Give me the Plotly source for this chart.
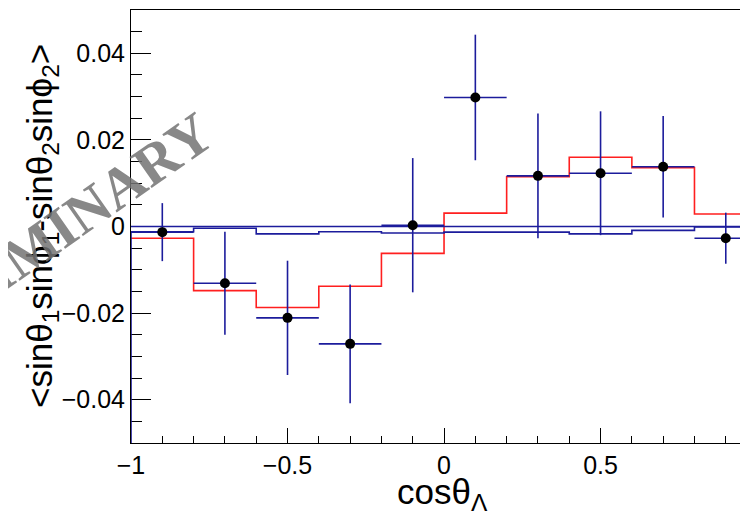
import plotly.graph_objects as go

# ---- data ----
bin_edges = [-1.0, -0.8, -0.6, -0.4, -0.2, 0.0, 0.2, 0.4, 0.6, 0.8, 1.0]
bin_centers = [-0.9, -0.7, -0.5, -0.3, -0.1, 0.1, 0.3, 0.5, 0.7, 0.9]
bin_half_width = 0.1

data_values = [-0.0013, -0.0131, -0.0211, -0.0271, 0.0003, 0.0298, 0.0117, 0.0123, 0.0138, -0.0027]
data_errors = [0.0067, 0.0119, 0.0132, 0.0137, 0.0155, 0.0145, 0.0144, 0.0143, 0.0117, 0.0059]

red_model = [-0.0027, -0.0148, -0.0187, -0.0138, -0.0062, 0.0031, 0.0115, 0.0160, 0.0136, 0.0029]
blue_model = [-0.0012, -0.0004, -0.0017, -0.0012, -0.0015, -0.0013, -0.0013, -0.0017, -0.0009, -0.0001]
blue_zero = [0.0, 0.0, 0.0, 0.0, 0.0, 0.0, 0.0, 0.0, 0.0, 0.0]

x_range = [-1.0, 0.971]
y_range = [-0.05, 0.05]

NAVY = "#1c1c9c"
RED = "#ff1f1f"

# page body has an 8px margin; size/offset the figure to compensate
FIG_W, FIG_H = 740, 507
M_L, M_R, M_T, M_B = 123, 0, 2, 72
PLOT_W = FIG_W - M_L - M_R
PLOT_H = FIG_H - M_T - M_B
OFF = 8  # body margin


def px_to_paper_x(px):
    return (px - OFF - M_L) / PLOT_W


def px_to_paper_y(py):
    return (FIG_H - M_B - (py - OFF)) / PLOT_H


def step_xy(values, start_from=None):
    xs = list(bin_edges)
    ys = list(values) + [values[-1]]
    if start_from is not None:
        xs = [bin_edges[0]] + xs
        ys = [start_from] + ys
    return xs, ys


fig = go.Figure()

rx, ry = step_xy(red_model)
fig.add_trace(go.Scatter(x=rx, y=ry, mode="lines", line=dict(color=RED, width=1.6, shape="hv"),
                         hoverinfo="skip", showlegend=False))

zx, zy = step_xy(blue_zero)
fig.add_trace(go.Scatter(x=zx, y=zy, mode="lines", line=dict(color=NAVY, width=1.6, shape="hv"),
                         hoverinfo="skip", showlegend=False))

bx, by = step_xy(blue_model, start_from=y_range[0])
fig.add_trace(go.Scatter(x=bx, y=by, mode="lines", line=dict(color=NAVY, width=1.6, shape="hv"),
                         hoverinfo="skip", showlegend=False))

fig.add_trace(go.Scatter(
    x=bin_centers, y=data_values, mode="markers",
    marker=dict(color="black", size=10),
    error_y=dict(type="data", array=data_errors, color=NAVY, thickness=1.6, width=0),
    error_x=dict(type="constant", value=bin_half_width, color=NAVY, thickness=1.6, width=0),
    showlegend=False,
))

fig.update_layout(
    width=FIG_W, height=FIG_H,
    margin=dict(l=M_L, r=M_R, t=M_T, b=M_B),
    paper_bgcolor="white", plot_bgcolor="white",
    font=dict(family="Liberation Sans, Arial, sans-serif", color="black"),
    showlegend=False,
)

fig.update_xaxes(
    range=x_range, showgrid=False, zeroline=False,
    showline=True, linecolor="black", linewidth=1, mirror=True,
    tick0=0, dtick=0.5, ticks="inside", ticklen=15, tickcolor="black", tickwidth=1,
    tickfont=dict(size=25, family="Liberation Sans, Arial, sans-serif"),
    minor=dict(dtick=0.1, ticks="inside", ticklen=7, tickcolor="black", tickwidth=1),
)
fig.update_yaxes(
    range=y_range, showgrid=False, zeroline=False,
    showline=True, linecolor="black", linewidth=1, mirror=False,
    tick0=0, dtick=0.02, ticks="inside", ticklen=20, tickcolor="black", tickwidth=1,
    tickfont=dict(size=25, family="Liberation Sans, Arial, sans-serif"),
    minor=dict(dtick=0.005, ticks="inside", ticklen=11, tickcolor="black", tickwidth=1),
    layer="below traces",
)

# axis titles
fig.add_annotation(
    text="&lt;sinθ<sub>1</sub>sinϕ<sub>1</sub>-sinθ<sub>2</sub>sinϕ<sub>2</sub>&gt;",
    xref="paper", yref="paper", x=px_to_paper_x(42), y=px_to_paper_y(226),
    xanchor="center", yanchor="middle", textangle=-90, showarrow=False,
    font=dict(size=35, family="Liberation Sans, Arial, sans-serif", color="black"),
)
fig.add_annotation(
    text="cosθ<sub>Λ</sub>",
    xref="paper", yref="paper", x=px_to_paper_x(443), y=px_to_paper_y(494),
    xanchor="center", yanchor="middle", showarrow=False,
    font=dict(size=35, family="Liberation Sans, Arial, sans-serif", color="black"),
)

# watermark
fig.add_annotation(
    text="<b>PRELIMINARY</b>", xref="paper", yref="paper",
    x=px_to_paper_x(34), y=px_to_paper_y(246),
    xanchor="center", yanchor="middle", textangle=-35, showarrow=False,
    font=dict(size=58, family="Liberation Serif, Times New Roman, serif", color="rgba(115,115,115,0.85)"),
)

fig.write_html("out.html")
